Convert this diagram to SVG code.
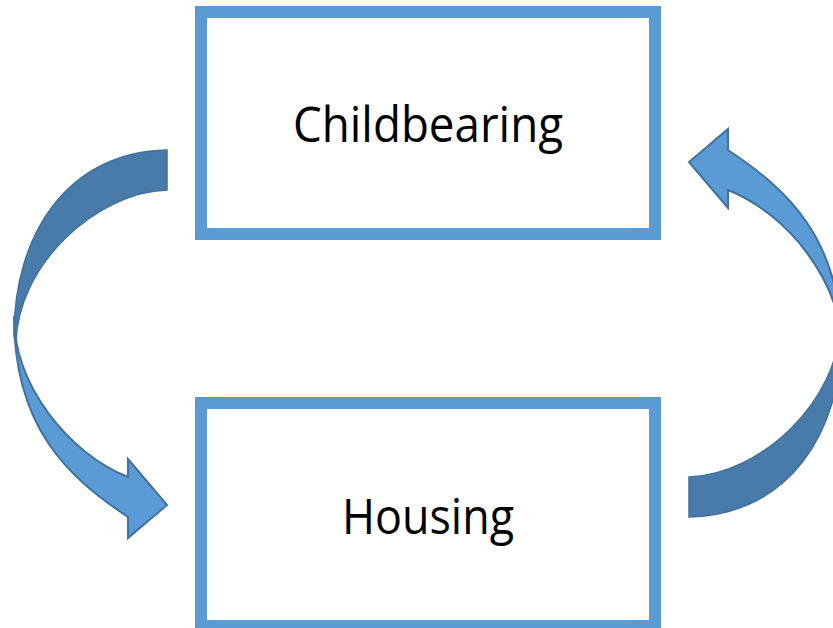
<svg xmlns="http://www.w3.org/2000/svg" width="833" height="628" viewBox="0 0 833 628">
  <defs>
    <style>
      .box { fill: #ffffff; stroke: #5b9bd5; stroke-width: 12; }
      .label { font-family: "Open Sans", "Noto Sans", "Liberation Sans", sans-serif; font-size: 50px; fill: #000000; text-anchor: middle; }
      .front { fill: #5b9bd5; stroke: #41719c; stroke-width: 2; stroke-linejoin: miter; }
      .back { fill: #487ba9; stroke: #41719c; stroke-width: 1.5; }
    </style>
    <!-- curved arrow: dark back band from the tail, light front band ending in the head -->
    <g id="curved-arrow">
      <path class="back" d="M167,150 C67,152 14,235 14,335 L16,345 C16,265 97,192 167,190 Z"/>
      <path class="front" d="M14,316 C14,428 68,477 128,517 L128,538 L167,505 L128,459 L128,477 C68,453 14,385 14,316 Z"/>
    </g>
  </defs>
  <rect width="833" height="628" fill="#ffffff"/>

  <g id="connectors">
    <use id="arrow-childbearing-housing" href="#curved-arrow"/>
    <use id="arrow-housing-childbearing" href="#curved-arrow" transform="rotate(180 428 333.5)"/>
  </g>

  <g id="node-childbearing">
    <rect class="box" x="201" y="12" width="454" height="222"/>
    <text class="label" x="428" y="142" textLength="270" lengthAdjust="spacingAndGlyphs">Childbearing</text>
  </g>

  <g id="node-housing">
    <rect class="box" x="201" y="403" width="454" height="223"/>
    <text class="label" x="428" y="534" textLength="172" lengthAdjust="spacingAndGlyphs">Housing</text>
  </g>
</svg>
